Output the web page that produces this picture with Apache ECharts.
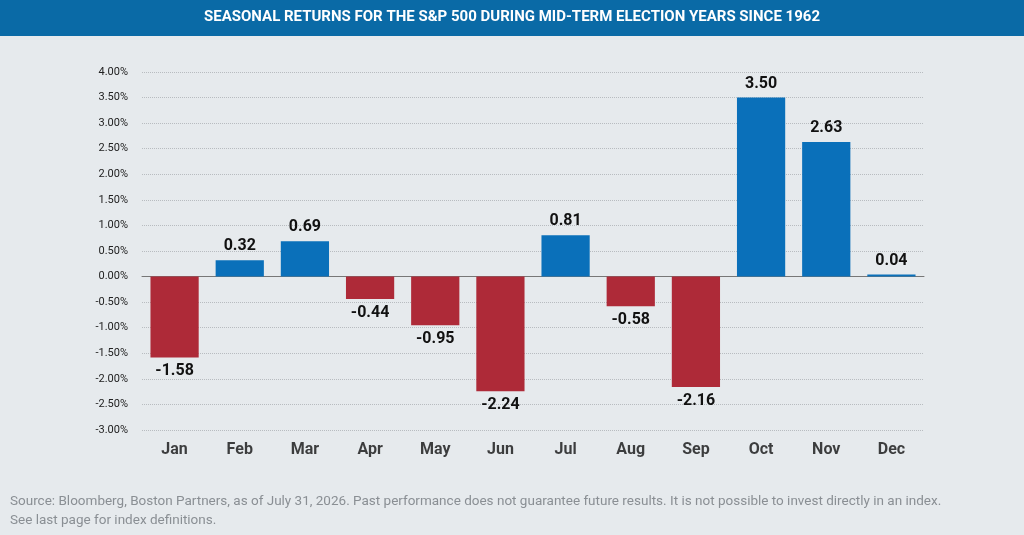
<!DOCTYPE html>
<html lang="en">
<head>
<meta charset="utf-8">
<script src="https://cdn.jsdelivr.net/npm/echarts@6/dist/echarts.min.js"></script>
<style>
  html, body { margin: 0; padding: 0; background: #e6eaed; }
  #chart { width: 1024px; height: 535px; }
</style>
</head>
<body>
<div id="chart"></div>
<script>
var months = ['Jan','Feb','Mar','Apr','May','Jun','Jul','Aug','Sep','Oct','Nov','Dec'];
var returns = [-1.58, 0.32, 0.69, -0.44, -0.95, -2.24, 0.81, -0.58, -2.16, 3.50, 2.63, 0.04];

var blue = '#0a70ba', red = '#ae2a38';
var myChart = echarts.init(document.getElementById('chart'));
myChart.setOption({
    backgroundColor: '#e6eaed',
    graphic: [
        { type: 'rect', left: 0, top: 0, shape: { width: 1024, height: 36 }, style: { fill: '#0a6aa6' } },
        { type: 'text', left: 'center', top: 10, style: {
            text: 'SEASONAL RETURNS FOR THE S&P 500 DURING MID-TERM ELECTION YEARS SINCE 1962',
            fill: '#fff', font: 'bold 15px Roboto', letterSpacing: 0.8 } },
        { type: 'text', left: 10, top: 492, style: {
            text: 'Source: Bloomberg, Boston Partners, as of July 31, 2026. Past performance does not guarantee future results. It is not possible to invest directly in an index.\nSee last page for index definitions.',
            fill: '#8a8f94', font: '13.5px Roboto', lineHeight: 19 } }
    ],
    grid: { left: 142, right: 100, top: 72, bottom: 105 },
    xAxis: {
        type: 'category', data: months, position: 'bottom',
        axisLine: { onZero: true, lineStyle: { color: '#777' } },
        axisTick: { show: false },
        axisLabel: { show: false }
    },
    yAxis: {
        type: 'value', min: -3, max: 4, interval: 0.5,
        axisLine: { show: false }, axisTick: { show: false },
        axisLabel: { formatter: function (v) { return v.toFixed(2) + '%'; }, color: '#222', fontSize: 11, fontFamily: 'Roboto', margin: 14 },
        splitLine: { lineStyle: { type: 'dotted', color: '#b8bcc0' } }
    },
    series: [{
        type: 'bar', barWidth: '74%',
        data: returns.map(function (v) {
            return { value: v, itemStyle: { color: v < 0 ? red : blue },
                label: { position: v < 0 ? 'bottom' : 'top' } };
        }),
        label: { show: true, formatter: function (p) { return p.value.toFixed(2); },
            fontSize: 16, fontWeight: 'bold', color: '#111', fontFamily: 'Roboto', distance: 6 }
    }, {
        type: 'scatter', symbolSize: 0, silent: true,
        data: months.map(function () { return -3; }),
        label: { show: true, position: 'bottom', distance: 12,
            formatter: function (p) { return p.name; },
            fontSize: 16, fontWeight: 'bold', color: '#111', fontFamily: 'Roboto' }
    }]
});
</script>
</body>
</html>
